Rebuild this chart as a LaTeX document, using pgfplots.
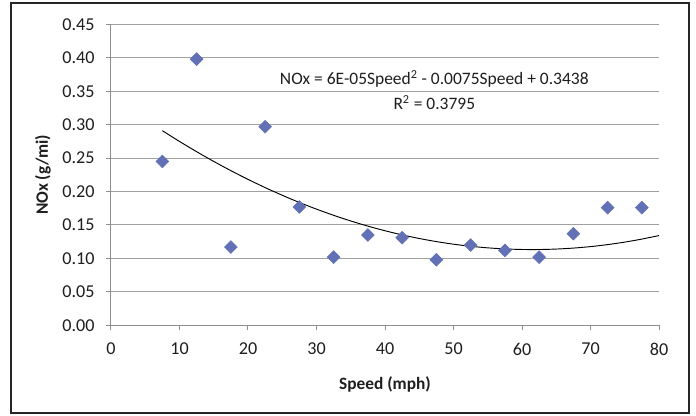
\documentclass[border=0pt]{standalone}
\usepackage{pgfplots}
\pgfplotsset{compat=1.18}
\usepackage{fontspec}
\setmainfont{Carlito}
\definecolor{markc}{RGB}{98,112,182}
\definecolor{gridc}{RGB}{160,160,160}
\definecolor{axisc}{RGB}{140,140,140}
\definecolor{txtc}{RGB}{30,30,30}
\begin{document}
\begin{tikzpicture}
\useasboundingbox (-83.25pt,-68pt) rectangle (438.75pt,244pt);
\fill[white] (-83.25pt,-68pt) rectangle (438.75pt,244pt);
\draw[line width=1.5pt, black!85] (-75pt,-65.8pt) rectangle (433.5pt,241.7pt);
\begin{axis}[
  at={(0,0)}, anchor=south west,
  scale only axis,
  width=411pt, height=225.75pt,
  xmin=0, xmax=80, ymin=0, ymax=0.45,
  xtick={0,10,...,80},
  ytick={0,0.05,...,0.45},
  axis x line*=bottom, axis y line*=left,
  axis line style={axisc, line width=0.75pt, -},
  tick style={axisc, line width=0.75pt},
  tick align=outside, major tick length=3.75pt,
  ymajorgrids, grid style={gridc, line width=0.75pt},
  /pgf/number format/assume math mode=true,
  yticklabel style={/pgf/number format/.cd, fixed, fixed zerofill, precision=2, /tikz/.cd, xshift=-5pt},
  xticklabel style={yshift=-6pt},
  ticklabel style={font=\fontsize{13.6}{15}\selectfont, text=txtc},
  xlabel={Speed (mph)}, ylabel={NOx (g/mi)},
  label style={font=\fontsize{13}{15}\selectfont\bfseries, text=txtc},
  xlabel style={at={(axis description cs:0.5,0)}, anchor=center, yshift=-44pt},
  ylabel style={at={(axis description cs:0,0.5)}, anchor=center, yshift=51pt},
  clip=false,
]
\addplot[only marks, mark=square*, mark size=3.4pt, mark options={rotate=45, fill=markc, draw=markc}]
coordinates {
(7.5,0.245) (12.5,0.398) (17.5,0.117) (22.5,0.297) (27.5,0.177)
(32.5,0.102) (37.5,0.135) (42.5,0.131) (47.5,0.098) (52.5,0.120)
(57.5,0.112) (62.5,0.102) (67.5,0.137) (72.5,0.176) (77.5,0.176)
};
\addplot[black, line width=0.7pt, smooth, no marks]
coordinates {
(7.5,0.29098) (10,0.2749) (12.5,0.25958) (15,0.24503) (17.5,0.23123)
(20,0.2182) (22.5,0.20593) (25,0.19443) (27.5,0.18368) (30,0.1737)
(32.5,0.16448) (35,0.15603) (37.5,0.14833) (40,0.1414) (42.5,0.13523)
(45,0.12983) (47.5,0.12518) (50,0.1213) (52.5,0.11818) (55,0.11583)
(57.5,0.11423) (60,0.1134) (62.5,0.11333) (65,0.11403) (67.5,0.11548)
(70,0.1177) (72.5,0.12068) (75,0.12443) (77.5,0.12893) (80,0.1342)
};
\node[font=\fontsize{13.1}{15}\selectfont, text=txtc, anchor=center] at (axis cs:47.2,0.368) {NOx = 6E-05Speed\textsuperscript{2} - 0.0075Speed + 0.3438};
\node[font=\fontsize{13.1}{15}\selectfont, text=txtc, anchor=center] at (axis cs:47.2,0.333) {R\textsuperscript{2} = 0.3795};
\end{axis}
\end{tikzpicture}
\end{document}
